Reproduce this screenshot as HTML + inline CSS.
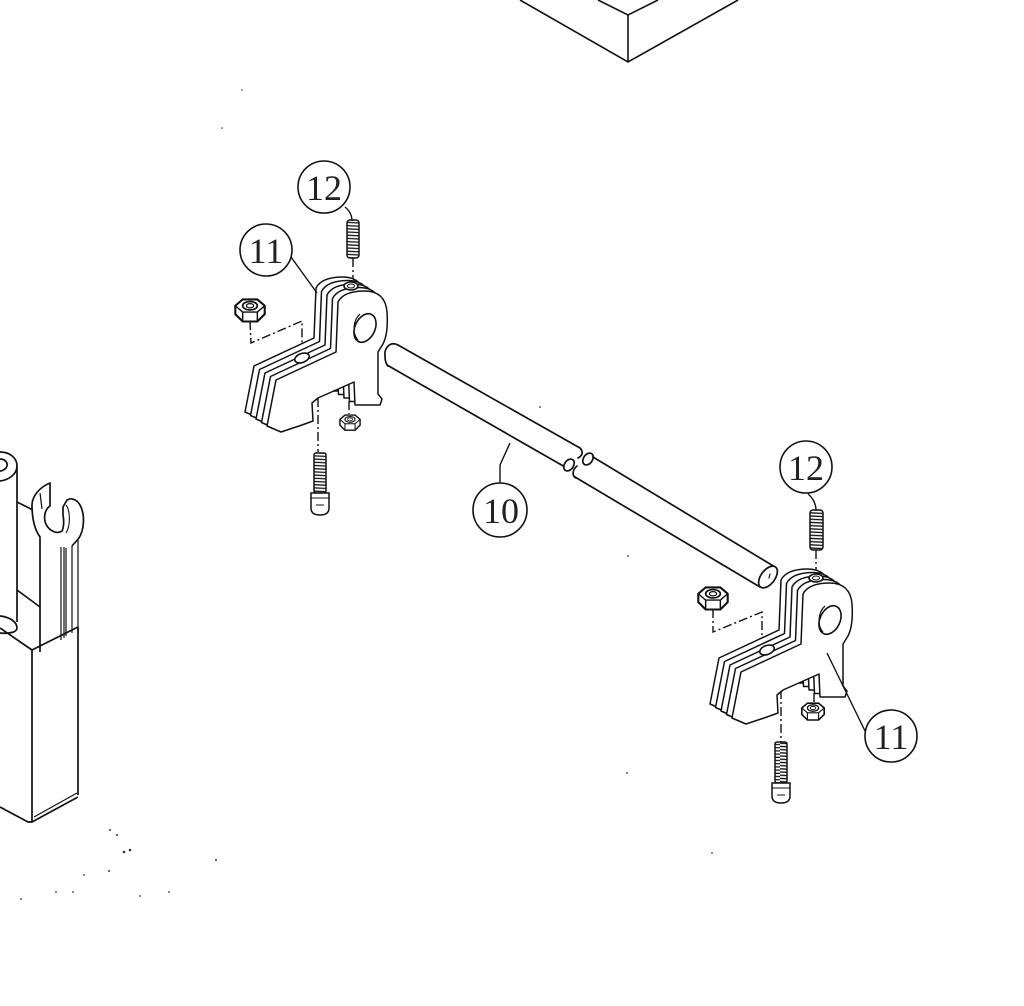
<!DOCTYPE html>
<html><head><meta charset="utf-8"><style>
html,body{margin:0;padding:0;background:#fff;}
svg{display:block;}
</style></head><body>
<svg width="1024" height="1006" viewBox="0 0 1024 1006" xmlns="http://www.w3.org/2000/svg">
<defs>
  <pattern id="th" patternUnits="userSpaceOnUse" width="30" height="3.2">
    <path d="M0,0.8 L30,2.2" stroke="#111" stroke-width="1.3" fill="none"/>
  </pattern>
  <path id="plate" d="M336,352 L338,302 C342,294 352,291 365,291 C378,291 386,298 387,312 C388,326 387,336 383,344 L378,352 L378,394 L382,399 L380,405 L355,405 L354,382 L318,398 L312,403 L313,421 L302,425 L281,432 L267,426 L276,380 Z" fill="#fff" stroke="#111" stroke-width="1.5" stroke-linejoin="round"/>
  <g id="nut">
    <path d="M-14,-5 L-7,-11 L7,-11 L14,-5 L14,3 L7,10 L-7,10 L-14,3 Z" fill="#fff" stroke="#111" stroke-width="2"/>
    <path d="M-14,-5 L-7,1 L7,1 L14,-5 M-7,1 L-7,10 M7,1 L7,10" fill="none" stroke="#111" stroke-width="1.4"/>
    <ellipse cx="0" cy="-5" rx="7" ry="4" fill="#fff" stroke="#111" stroke-width="1.6"/>
    <ellipse cx="0" cy="-5" rx="3.5" ry="2" fill="none" stroke="#111" stroke-width="1.2"/>
  </g>
  <g id="brk">
    <use href="#plate" transform="translate(-22,-14)"/>
    <use href="#plate" transform="translate(-16.5,-10.5)"/>
    <use href="#plate" transform="translate(-11,-7)"/>
    <use href="#plate" transform="translate(-5.5,-3.5)"/>
    <use href="#plate"/>
    <ellipse cx="365" cy="328" rx="10" ry="15" transform="rotate(25 365 328)" fill="#fff" stroke="#111" stroke-width="1.6"/>
    <path d="M358,340 C352,334 353,320 360,314" fill="none" stroke="#111" stroke-width="1.2"/>
    <ellipse cx="351" cy="286" rx="7" ry="4" fill="#fff" stroke="#111" stroke-width="1.6"/>
    <ellipse cx="351" cy="286" rx="3.5" ry="2" fill="none" stroke="#111" stroke-width="1"/>
    <ellipse cx="302" cy="358" rx="7.5" ry="4.5" transform="rotate(-20 302 358)" fill="#fff" stroke="#111" stroke-width="1.6"/>
  </g>
</defs>

<rect width="1024" height="1006" fill="#fff"/>

<!-- top box -->
<g fill="none" stroke="#111" stroke-width="1.6">
  <path d="M520,0 L628,62 L738,0"/>
  <path d="M598,0 L628,15 L658,0"/>
  <path d="M628,15 L628,62"/>
</g>

<!-- left box with wrenches -->
<g fill="none" stroke="#111" stroke-width="1.7" stroke-linejoin="round">
  <path d="M17,622 L17,466"/>
  <path d="M0,452 C10,452 17,458 17,466 C17,474 9,480 0,481"/>
  <path d="M0,459 C6,459 9,464 6,468 C4,470 2,471 0,471"/>
  <path d="M0,616 C10,617 17,622 17,628 C17,632 10,634 0,633"/>
  <path d="M17,502 L33,510"/>
  <path d="M17,590 L40,607"/>
  <!-- wrench head (C shape) -->
  <path d="M40,652 L40,537 C35,530 32,520 32,505 C32,496 40,487 50,483 L50,506 C44,510 43,520 47,526 C51,532 58,534 62,531 C64,527 64,520 63,515 L63,507 L67,500 C72,497 78,500 81,507 C85,516 84,530 79,538 L72,546" fill="#fff"/>
  <path d="M40,493 L42,509" stroke-width="1.2"/>
  <path d="M66,505 C70,510 71,525 66,533" stroke-width="1.1"/>
  <path d="M61,547 L61,640 M64,547 L64,638 M66,548 L66,636 M72,546 L72,633 M78,540 L78,633" stroke-width="1.2"/>
  <path d="M0,628 L32,650 L78,627"/>
  <path d="M32,650 L32,822"/>
  <path d="M78,627 L78,795"/>
  <path d="M0,807 L28,822 L32,822 L78,797"/>
  <path d="M34,817 L77,793" stroke-width="1.2"/>
</g>

<!-- dashed leader lines (behind parts) -->
<g fill="none" stroke="#111" stroke-width="1.4" stroke-dasharray="9,3,2,3">
  <path d="M250,321 L251,343 L302,321 L302,350"/>
  <path d="M318,398 L318,452"/>
  <path d="M349,384 L349,414"/>
  <path d="M353,258 L353,284"/>
  <path d="M713,609 L713,632 L762,612 L762,642"/>
  <path d="M781,690 L781,742"/>
  <path d="M814,676 L814,703"/>
  <path d="M816,550 L816,575"/>
  <path d="M842,640 L843,688 L822,692"/>
</g>

<!-- shaft -->
<g fill="none" stroke="#111" stroke-width="1.7" stroke-linecap="round">
  <path d="M398,345 L580,448"/>
  <path d="M387,365 L565,467"/>
  <path d="M398,345 C390,341 384,348 385,356 C385,361 386,364 388,366"/>
  <path d="M580,448 C584,452 582,456 578,458"/>
  <ellipse cx="569" cy="465" rx="4.5" ry="6.5" transform="rotate(35 569 465)" fill="#fff"/>
  <ellipse cx="588" cy="459" rx="4.5" ry="6.5" transform="rotate(35 588 459)" fill="#fff"/>
  <path d="M593,457 L775,567"/>
  <path d="M575,477 L760,587"/>
  <path d="M577,466 C572,470 572,476 576,478"/>
  <ellipse cx="768" cy="577" rx="7" ry="12.5" transform="rotate(37 768 577)" fill="#fff"/>
  <path d="M770,574 L769,578" stroke-width="1.2"/>
</g>

<!-- brackets -->
<use href="#brk"/>
<use href="#brk" transform="translate(465,292)"/>

<!-- nuts -->
<use href="#nut" transform="translate(250,311) scale(1.05)"/>
<use href="#nut" transform="translate(350,423) scale(0.72)"/>
<use href="#nut" transform="translate(713,599) scale(1.05)"/>
<use href="#nut" transform="translate(813,712) scale(0.8)"/>

<!-- screws -->
<g stroke="#111" stroke-width="1.5">
  <rect x="347" y="220" width="12" height="38" rx="3" fill="url(#th)"/>
  <rect x="314" y="453" width="12" height="40" rx="2" fill="url(#th)"/>
  <path d="M311,493 L329,493 L329,508 Q329,515 320,515 Q311,515 311,508 Z" fill="#fff"/>
  <path d="M311,498 L329,498 M316,505 L324,505" fill="none" stroke-width="1.1"/>
  <rect x="810" y="510" width="13" height="40" rx="3" fill="url(#th)"/>
  <rect x="775" y="742" width="12" height="41" rx="2" fill="url(#th)"/>
  <path d="M772,783 L790,783 L790,796 Q790,803 781,803 Q772,803 772,796 Z" fill="#fff"/>
  <path d="M772,788 L790,788 M777,795 L785,795" fill="none" stroke-width="1.1"/>
</g>

<!-- leaders -->
<g fill="none" stroke="#111" stroke-width="1.4">
  <path d="M345,207 C350,211 352,216 352,221"/>
  <path d="M291,257 L317,293"/>
  <path d="M500,483 L500,465 L510,443"/>
  <path d="M808,494 C813,498 816,504 816,510"/>
  <path d="M827,653 L866,733"/>
</g>

<!-- label circles -->
<g fill="#fff" stroke="#111" stroke-width="1.6">
  <circle cx="324" cy="187" r="26"/>
  <circle cx="266" cy="250" r="26"/>
  <circle cx="500" cy="510" r="27"/>
  <circle cx="806" cy="467" r="26"/>
  <circle cx="891" cy="736" r="26"/>
</g>
<g font-family="'Liberation Serif', serif" font-size="36" fill="#222" text-anchor="middle">
  <text x="324" y="200">12</text>
  <text x="266" y="263">11</text>
  <text x="501" y="523">10</text>
  <text x="806" y="480">12</text>
  <text x="891" y="749">11</text>
</g>

<!-- specks -->
<g fill="#333">
  <circle cx="110" cy="830" r="1"/><circle cx="117" cy="835" r="1"/><circle cx="124" cy="852" r="1.3"/>
  <circle cx="130" cy="850" r="1.3"/><circle cx="109" cy="871" r="1"/><circle cx="216" cy="860" r="1"/>
  <circle cx="84" cy="875" r="0.9"/><circle cx="56" cy="892" r="0.9"/><circle cx="73" cy="892" r="0.9"/>
  <circle cx="169" cy="892" r="0.9"/><circle cx="140" cy="896" r="0.9"/><circle cx="21" cy="899" r="0.9"/>
  <circle cx="540" cy="407" r="0.9"/><circle cx="628" cy="556" r="0.9"/><circle cx="627" cy="773" r="0.9"/>
  <circle cx="712" cy="853" r="0.9"/><circle cx="242" cy="90" r="0.8"/><circle cx="222" cy="128" r="0.8"/>
</g>
</svg>
</body></html>
